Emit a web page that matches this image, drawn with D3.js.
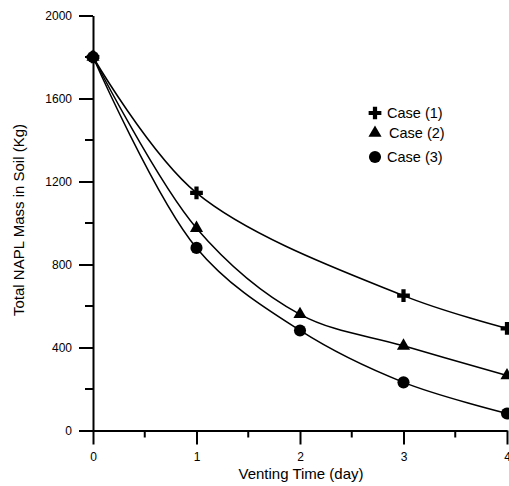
<!DOCTYPE html>
<html>
<head>
<meta charset="utf-8">
<script src="https://cdn.jsdelivr.net/npm/d3@7"></script>
<style>
  body { margin: 0; background: #fff; }
  svg { font-family: Arial, "Liberation Sans", sans-serif; }
</style>
</head>
<body>
<svg id="chart" width="509" height="486"></svg>
<script>
// data
const case1X = [0, 1, 3, 4];
const case1Y = [1800, 1145, 650, 492];
const case2X = [0, 1, 2, 3, 4];
const case2Y = [1800, 975, 560, 408, 265];
const case3X = [0, 1, 2, 3, 4];
const case3Y = [1800, 880, 482, 232, 82];
const xTicks = [0, 1, 2, 3, 4];
const yTicks = [0, 400, 800, 1200, 1600, 2000];
const legendNames = ["Case (1)", "Case (2)", "Case (3)"];

const svg = d3.select("#chart");
const margin = { top: 15.5, left: 93 };
const innerWidth = 414;
const innerHeight = 415;

const x = d3.scaleLinear().domain([0, 4]).range([0, innerWidth]);
const y = d3.scaleLinear().domain([0, 2000]).range([innerHeight, 0]);

const g = svg.append("g").attr("transform", `translate(${margin.left},${margin.top})`);

// y axis with minor ticks
const yMinor = d3.range(200, 2000, 400);
g.append("g")
  .call(d3.axisLeft(y).tickValues(yTicks).tickFormat(d3.format("d")).tickSize(14).tickPadding(7).tickSizeOuter(0))
  .call(a => a.select(".domain").attr("stroke-width", 2))
  .call(a => a.selectAll(".tick line").attr("stroke-width", 2))
  .call(a => a.selectAll(".tick text").attr("font-size", 12).attr("fill", "#000"));
g.append("g").selectAll("line")
  .data(yMinor)
  .join("line")
  .attr("x1", -8).attr("x2", 0)
  .attr("y1", d => y(d)).attr("y2", d => y(d))
  .attr("stroke", "#000").attr("stroke-width", 2);

// x axis with minor ticks
const xMinor = [0.5, 1.5, 2.5, 3.5];
g.append("g")
  .attr("transform", `translate(0,${innerHeight})`)
  .call(d3.axisBottom(x).tickValues(xTicks).tickFormat(d3.format("d")).tickSize(14).tickPadding(8).tickSizeOuter(0))
  .call(a => a.select(".domain").attr("stroke-width", 2))
  .call(a => a.selectAll(".tick line").attr("stroke-width", 2))
  .call(a => a.selectAll(".tick text").attr("font-size", 12).attr("fill", "#000"));
g.append("g").selectAll("line")
  .data(xMinor)
  .join("line")
  .attr("x1", d => x(d)).attr("x2", d => x(d))
  .attr("y1", innerHeight).attr("y2", innerHeight + 7)
  .attr("stroke", "#000").attr("stroke-width", 2);

// axis titles
svg.append("text")
  .attr("x", 301).attr("y", 479)
  .attr("text-anchor", "middle")
  .attr("font-size", 15)
  .text("Venting Time (day)");
svg.append("text")
  .attr("transform", "translate(24,220) rotate(-90)")
  .attr("text-anchor", "middle")
  .attr("font-size", 15)
  .text("Total NAPL Mass in Soil (Kg)");

const series = [
  { xs: case1X, ys: case1Y, shape: d3.symbolCross, size: 90 },
  { xs: case2X, ys: case2Y, shape: d3.symbolTriangle, size: 75 },
  { xs: case3X, ys: case3Y, shape: d3.symbolCircle, size: 115 }
];

const line = d3.line()
  .x(d => x(d[0]))
  .y(d => y(d[1]))
  .curve(d3.curveCatmullRom.alpha(0.5));

series.forEach(s => {
  const pts = s.xs.map((v, i) => [v, s.ys[i]]);
  g.append("path")
    .datum(pts)
    .attr("d", line)
    .attr("fill", "none")
    .attr("stroke", "#000")
    .attr("stroke-width", 1.5);
  g.selectAll(null)
    .data(pts)
    .join("path")
    .attr("transform", d => `translate(${x(d[0])},${y(d[1])})`)
    .attr("d", d3.symbol().type(s.shape).size(s.size))
    .attr("fill", "#000");
});

// legend
const legendY = [113, 133, 157];
const legend = svg.append("g");
series.forEach((s, i) => {
  legend.append("path")
    .attr("transform", `translate(375,${legendY[i]})`)
    .attr("d", d3.symbol().type(s.shape).size(s.size))
    .attr("fill", "#000");
  legend.append("text")
    .attr("x", i === 1 ? 389 : 387)
    .attr("y", legendY[i])
    .attr("dy", "0.36em")
    .attr("font-size", 14.5)
    .text(legendNames[i]);
});
</script>
</body>
</html>
